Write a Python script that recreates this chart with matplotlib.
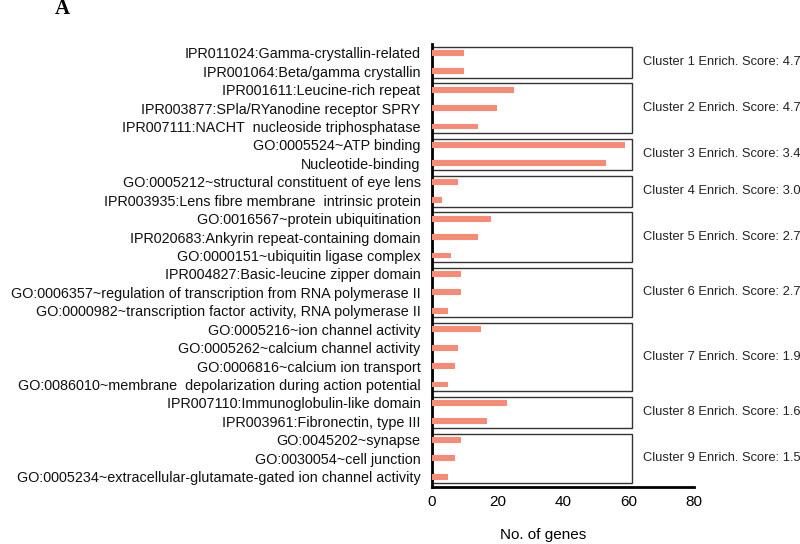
import matplotlib
matplotlib.use("Agg")
import matplotlib.pyplot as plt
from matplotlib.patches import Rectangle
import numpy as np

plt.rcParams["font.family"] = ["Liberation Sans", "DejaVu Sans"]

# ── data ────────────────────────────────────────────────
terms = [
    "IPR011024:Gamma-crystallin-related",
    "IPR001064:Beta/gamma crystallin",
    "IPR001611:Leucine-rich repeat",
    "IPR003877:SPla/RYanodine receptor SPRY",
    "IPR007111:NACHT  nucleoside triphosphatase",
    "GO:0005524~ATP binding",
    "Nucleotide-binding",
    "GO:0005212~structural constituent of eye lens",
    "IPR003935:Lens fibre membrane  intrinsic protein",
    "GO:0016567~protein ubiquitination",
    "IPR020683:Ankyrin repeat-containing domain",
    "GO:0000151~ubiquitin ligase complex",
    "IPR004827:Basic-leucine zipper domain",
    "GO:0006357~regulation of transcription from RNA polymerase II",
    "GO:0000982~transcription factor activity, RNA polymerase II",
    "GO:0005216~ion channel activity",
    "GO:0005262~calcium channel activity",
    "GO:0006816~calcium ion transport",
    "GO:0086010~membrane  depolarization during action potential",
    "IPR007110:Immunoglobulin-like domain",
    "IPR003961:Fibronectin, type III",
    "GO:0045202~synapse",
    "GO:0030054~cell junction",
    "GO:0005234~extracellular-glutamate-gated ion channel activity",
]
gene_counts = [10, 10, 25, 20, 14, 59, 53, 8, 3, 18, 14, 6,
               9, 9, 5, 15, 8, 7, 5, 23, 17, 9, 7, 5]

cluster_sizes = [2, 3, 2, 2, 3, 3, 4, 2, 3]
cluster_scores = ["4.7", "4.7", "3.4", "3.0", "2.7", "2.7", "1.9", "1.6", "1.5"]

# ── plot ────────────────────────────────────────────────
BAR_COLOR = "#F98B76"

fig = plt.figure(figsize=(8, 5.44), dpi=100)
ax = fig.add_axes([0.5396, 0.1048, 0.328, 0.814])

y = np.arange(len(terms))
ax.barh(y, gene_counts, height=0.32, color=BAR_COLOR, zorder=3)

ax.set_yticks(y)
ax.set_yticklabels(terms, fontsize=10.4, color="#111111")
ax.set_ylim(len(terms) - 1 + 0.56, -0.47)

ax.set_xlim(0, 80)
ax.set_xticks([0, 20, 40, 60, 80])
ax.tick_params(axis="x", length=0, pad=6, labelsize=11)
ax.tick_params(axis="y", length=0, pad=8)

for s in ["top", "right"]:
    ax.spines[s].set_visible(False)
ax.spines["left"].set_linewidth(2)
ax.spines["bottom"].set_linewidth(2)

# cluster boxes and labels
start = 0
box_right = 61
for i, (n, score) in enumerate(zip(cluster_sizes, cluster_scores)):
    top = start - 0.34
    bottom = start + n - 1 + 0.34
    ax.add_patch(Rectangle((0, top), box_right, bottom - top,
                           fill=False, edgecolor="#333333",
                           linewidth=1.0, zorder=2, clip_on=False))
    ax.text(box_right + 3.5, (top + bottom) / 2,
            f"Cluster {i + 1} Enrich. Score: {score}",
            va="center", ha="left", fontsize=9.3, color="#222222")
    start += n

fig.text(543 / 800, 1 - 535 / 544, "No. of genes",
         ha="center", va="center", fontsize=11)

fig.text(62 / 800, 1 - 9 / 544, "A", ha="center", va="center",
         fontsize=15, fontweight="bold", family="Liberation Serif")

fig.savefig("out.png", dpi=100)
